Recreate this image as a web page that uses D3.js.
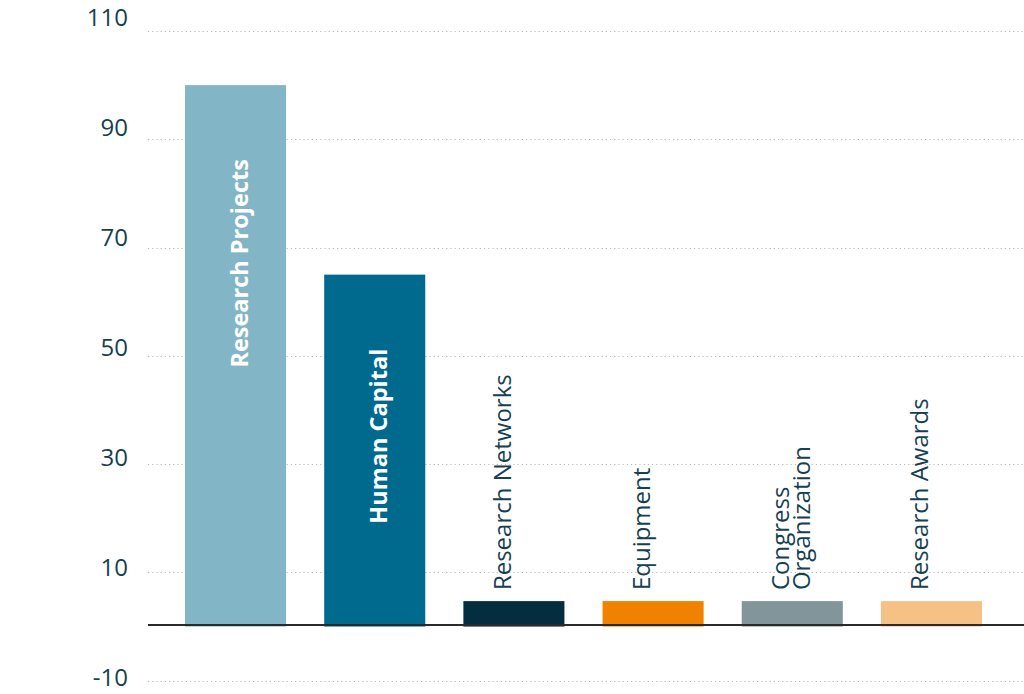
<!DOCTYPE html>
<html>
<head>
<meta charset="utf-8">
<script src="https://cdn.jsdelivr.net/npm/d3@7"></script>
<style>
  html, body { margin: 0; padding: 0; background: #fff; }
  svg { display: block; font-family: "Open Sans", "Noto Sans", sans-serif; }
</style>
</head>
<body>
<svg id="chart" width="1024" height="694"></svg>
<script>
// ---- data ----
const categories = ["Research Projects", "Human Capital", "Research Networks", "Equipment", "Congress Organization", "Research Awards"];
const labelLines = [["Research Projects"], ["Human Capital"], ["Research Networks"], ["Equipment"], ["Congress", "Organization"], ["Research Awards"]];
const values = [100, 65, 4.7, 4.7, 4.7, 4.7];
const colors = ["#82b5c5", "#006a8e", "#042e3f", "#f08200", "#82959b", "#f6c185"];
const labelInside = [true, true, false, false, false, false];
const tickValues = [110, 90, 70, 50, 30, 10, -10];

// ---- layout ----
const svg = d3.select("#chart");
const W = 1024, H = 694;
const textColor = "#163f52";

const y = d3.scaleLinear().domain([-10, 110]).range([680.7, 31]);
const yLabel = d3.scaleLinear().domain([-10, 110]).range([677.8, 17.5]);
const x = d3.scaleBand().domain(categories).range([148, 1019]).paddingInner(0.274).paddingOuter(0.266);

// gridlines
svg.append("g").selectAll("line").data(tickValues).join("line")
  .attr("x1", 148).attr("x2", W)
  .attr("y1", d => Math.round(y(d)) + 0.5).attr("y2", d => Math.round(y(d)) + 0.5)
  .attr("stroke", "#b8bcbf").attr("stroke-width", 1).attr("stroke-dasharray", "1.2,3");

// tick labels
svg.append("g").selectAll("text").data(tickValues).join("text")
  .attr("x", 128).attr("y", d => yLabel(d))
  .attr("dy", "0.36em")
  .attr("text-anchor", "end")
  .attr("fill", textColor)
  .attr("font-size", 24)
  .text(d => d);

const data = categories.map((c, i) => ({ cat: c, value: values[i], color: colors[i], inside: labelInside[i], lines: labelLines[i] }));

// bars
svg.append("g").selectAll("rect").data(data).join("rect")
  .attr("x", d => x(d.cat))
  .attr("width", x.bandwidth())
  .attr("y", d => y(Math.max(0, d.value)))
  .attr("height", d => Math.abs(y(d.value) - y(0)))
  .attr("fill", d => d.color);

// baseline
svg.append("line")
  .attr("x1", 148).attr("x2", W)
  .attr("y1", y(0) - 1.5).attr("y2", y(0) - 1.5)
  .attr("stroke", "#2a2a2a").attr("stroke-width", 2);

// labels
const lbl = svg.append("g");
data.forEach(d => {
  const cx = x(d.cat) + x.bandwidth() / 2;
  if (d.inside) {
    const top = y(d.value) + 74;
    lbl.append("text")
      .attr("transform", `translate(${cx + 4},${top}) rotate(-90)`)
      .attr("text-anchor", "end")
      .attr("dy", "0.36em")
      .attr("font-size", 23.5)
      .attr("font-weight", 700)
      .attr("fill", "#ffffff")
      .text(d.lines[0]);
  } else {
    const start = y(d.value) - 11;
    const t = lbl.append("text")
      .attr("transform", `translate(${cx - 12},${start}) rotate(-90)`)
      .attr("text-anchor", "start")
      .attr("font-size", 24)
      .attr("fill", textColor);
    d.lines.forEach((ln, k) => {
      t.append("tspan").attr("x", 0).attr("y", k * 21.5).attr("dy", "0.36em").text(ln);
    });
  }
});
</script>
</body>
</html>
